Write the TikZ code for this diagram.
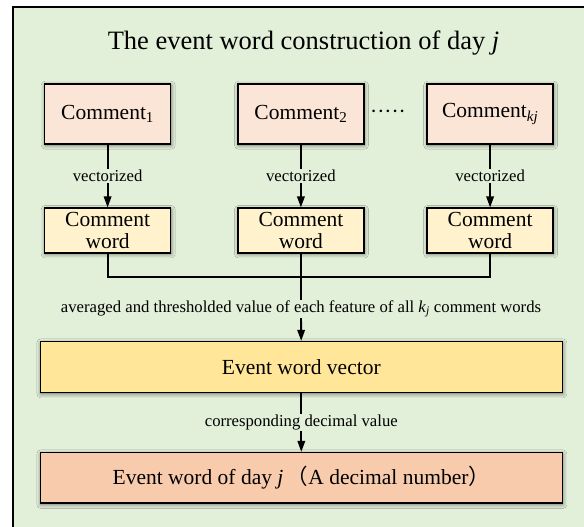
\documentclass[tikz,border=0pt]{standalone}
\usepackage{fontspec}
\setmainfont{Liberation Serif}
\newfontfamily\cjk{Noto Sans CJK SC}
\usetikzlibrary{arrows.meta,shadows.blur}

\definecolor{bggreen}{HTML}{E2EFD9}
\definecolor{cmtpink}{HTML}{FBE5D6}
\definecolor{wordyel}{HTML}{FFF2CC}
\definecolor{vecyel}{HTML}{FFE699}
\definecolor{evtpink}{HTML}{F8CBAD}

\tikzset{
  box/.style={draw=black,line width=1.6pt,minimum width=126pt,inner sep=0pt,align=center,
    font=\fontsize{21.5}{22}\selectfont,
    blur shadow={shadow xshift=0.6pt,shadow yshift=-1.2pt,shadow blur radius=4pt,shadow opacity=55}},
  lab/.style={fill=bggreen,inner sep=1pt,font=\fontsize{16.7}{19}\selectfont},
  link/.style={line width=1.8pt},
  arr/.style={link,-{Triangle[length=11pt,width=7.5pt]}},
}

\begin{document}
\begin{tikzpicture}[x=1pt,y=1pt]
        \useasboundingbox (0,0) rectangle (584,527);
        \clip (0,0) rectangle (584,527);
        \fill[bggreen] (13,-10) rectangle (600,520);
        \draw[line width=1.7pt] (13,-10) -- (13,520) -- (600,520);

        \node[anchor=base] (T) at (303.5,477.5) {\fontsize{26.5}{30}\selectfont The event word construction of day \textit{j}};
        \node[box,fill=cmtpink,minimum height=60pt] (C1) at (107.6,413) {Comment\textsubscript{1}};
        \node[box,fill=cmtpink,minimum height=60pt] (C2) at (300.9,413) {Comment\textsubscript{2}};
        \node (D) at (388,413) {\fontsize{21.5}{22}\selectfont ·····};
        \node[box,fill=cmtpink,minimum height=60pt] (Ck) at (490.1,413) {Comment\textsubscript{\textit{kj}}};
        \node[box,fill=wordyel,minimum height=44.5pt] (W1) at (107.6,296.5) {Comment\\word};
        \node[box,fill=wordyel,minimum height=44.5pt] (W2) at (300.9,296.5) {Comment\\word};
        \node[box,fill=wordyel,minimum height=44.5pt] (Wk) at (490.1,296.5) {Comment\\word};
        \coordinate (J) at (300.9,250);
        \node[box,fill=vecyel,minimum width=522pt,minimum height=51pt] (V) at (301.3,159.8) {Event word vector};
        \node[box,fill=evtpink,minimum width=522pt,minimum height=50.6pt] (E) at (301.3,49) {Event word of day \textit{j}\,{\cjk （}A decimal number{\cjk ）}};

            \draw[arr] (C1) -- node[lab] {vectorized} (W1);
            \draw[arr] (C2) -- node[lab] {vectorized} (W2);
            \draw[arr] (Ck) -- node[lab] {vectorized} (Wk);
            \draw[link] (W1) |- (J) -| (Wk);
            \draw[link] (W2) -- (J);
            \draw[arr] (J) -- node[lab] {averaged and thresholded value of each feature of all \textit{k}\textsubscript{\textit{j}} comment words} (V);
            \draw[arr] (V) -- node[lab] {corresponding decimal value} (E);

\end{tikzpicture}
\end{document}
